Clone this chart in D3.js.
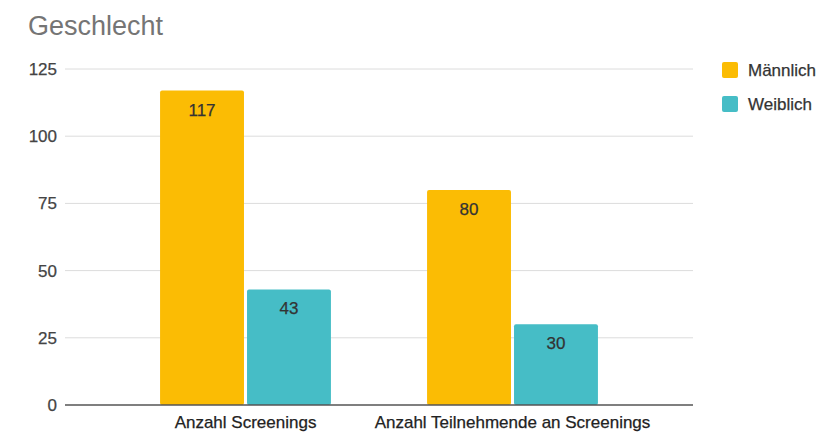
<!DOCTYPE html>
<html><head><meta charset="utf-8">
<script src="https://cdn.jsdelivr.net/npm/d3@7"></script>
<style>body{margin:0;background:#fff;font-family:"Liberation Sans",Arial,sans-serif}</style>
</head><body>
<svg id="c" width="820" height="433"></svg>
<script>
const categories = ["Anzahl Screenings", "Anzahl Teilnehmende an Screenings"];
const seriesNames = ["Männlich", "Weiblich"];
const maleValues = [117, 80];
const femaleValues = [43, 30];
const yTicks = [0, 25, 50, 75, 100, 125];
const colors = ["#FBBC04", "#46BDC6"];
const FONT = "'Liberation Sans',Arial,sans-serif";

const svg = d3.select("#c").attr("font-family", FONT);
const x0 = d3.scaleBand().domain(categories).range([112, 646]).paddingInner(0.36).paddingOuter(0.18);
const x1 = d3.scaleBand().domain(seriesNames).range([0, x0.bandwidth()]).paddingInner(0.035);
const y = d3.scaleLinear().domain([0, 125]).range([405, 69]);

svg.append("text").attr("x", 28).attr("y", 35).attr("font-size", 27).attr("fill", "#757575").text("Geschlecht");

// grid
svg.append("g").selectAll("line").data(yTicks.filter(d => d > 0)).join("line")
  .attr("x1", 65).attr("x2", 693).attr("y1", d => y(d)).attr("y2", d => y(d))
  .attr("stroke", "#dcdcdc").attr("stroke-width", 1);

const yAxis = svg.append("g").attr("transform", "translate(65,0)")
  .call(d3.axisLeft(y).tickValues(yTicks).tickSize(0).tickPadding(8));
yAxis.select(".domain").remove();
yAxis.selectAll("text").attr("font-size", 17).attr("fill", "#444").attr("font-family", FONT)
  .attr("stroke", "#444").attr("stroke-width", 0.25);

const data = categories.map((c, i) => ({cat: c, vals: [maleValues[i], femaleValues[i]]}));
const groups = svg.append("g").selectAll("g").data(data).join("g")
  .attr("transform", d => `translate(${x0(d.cat)},0)`);
groups.selectAll("rect").data(d => d.vals.map((v, j) => ({s: seriesNames[j], v, j}))).join("rect")
  .attr("x", d => x1(d.s)).attr("width", x1.bandwidth())
  .attr("y", d => y(d.v)).attr("height", d => y(0) - y(d.v))
  .attr("rx", 2).attr("fill", d => colors[d.j]);
groups.selectAll("text").data(d => d.vals.map((v, j) => ({s: seriesNames[j], v, j}))).join("text")
  .attr("x", d => x1(d.s) + x1.bandwidth() / 2).attr("y", d => y(d.v) + 25)
  .attr("text-anchor", "middle").attr("font-size", 17).attr("fill", "#333")
  .attr("stroke", "#333").attr("stroke-width", 0.25).text(d => d.v);

// baseline
svg.append("line").attr("x1", 65).attr("x2", 693).attr("y1", y(0)).attr("y2", y(0))
  .attr("stroke", "#555").attr("stroke-width", 1.5);

const xAxis = svg.append("g").attr("transform", `translate(0,${y(0)})`)
  .call(d3.axisBottom(x0).tickSize(0).tickPadding(11));
xAxis.select(".domain").remove();
xAxis.selectAll("text").attr("font-size", 17).attr("fill", "#222").attr("font-family", FONT)
  .attr("stroke", "#222").attr("stroke-width", 0.25);

// legend
const lg = svg.append("g").selectAll("g").data(seriesNames).join("g")
  .attr("transform", (d, i) => `translate(722,${62 + i * 34})`);
lg.append("rect").attr("width", 16).attr("height", 16).attr("rx", 2).attr("fill", (d, i) => colors[i]);
lg.append("text").attr("x", 26).attr("y", 14).attr("font-size", 17).attr("fill", "#333")
  .attr("stroke", "#333").attr("stroke-width", 0.25).text(d => d);
</script>
</body></html>
